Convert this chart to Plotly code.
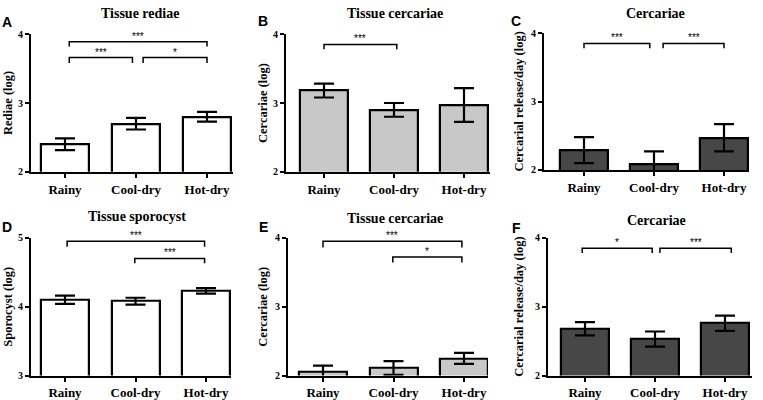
import plotly.graph_objects as go

W, H = 763, 400

categories = ["Rainy", "Cool-dry", "Hot-dry"]

a_mean = [2.40, 2.70, 2.80]
a_err = [0.085, 0.085, 0.07]
b_mean = [3.18, 2.90, 2.97]
b_err = [0.10, 0.10, 0.245]
c_mean = [2.29, 2.08, 2.47]
c_err = [0.19, 0.19, 0.20]
d_mean = [4.10, 4.08, 4.23]
d_err = [0.06, 0.05, 0.04]
e_mean = [2.06, 2.11, 2.25]
e_err = [0.085, 0.10, 0.08]
f_mean = [2.68, 2.53, 2.76]
f_err = [0.095, 0.11, 0.11]

# significance brackets: (x_start, x_end, y_top, leg_drop, label)
a_sig = [(0.06, 2.0, 3.89, 0.07, "***"), (0.06, 0.95, 3.66, 0.08, "***"), (1.10, 2.0, 3.66, 0.08, "*")]
b_sig = [(0.0, 1.04, 3.85, 0.07, "***")]
c_sig = [(0.0, 0.94, 3.85, 0.07, "***"), (1.13, 2.0, 3.85, 0.07, "***")]
d_sig = [(0.03, 1.98, 4.95, 0.08, "***"), (0.99, 1.98, 4.70, 0.07, "***")]
e_sig = [(0.0, 1.97, 3.95, 0.09, "***"), (0.99, 1.97, 3.72, 0.08, "*")]
f_sig = [(-0.04, 0.96, 3.85, 0.07, "*"), (1.07, 2.09, 3.85, 0.07, "***")]

titles = ["Tissue rediae", "Tissue cercariae", "Cercariae",
          "Tissue sporocyst", "Tissue cercariae", "Cercariae"]
letters = ["A", "B", "C", "D", "E", "F"]
ylabels = ["Rediae (log)", "Cercariae (log)", "Cercarial release/day (log)",
           "Sporocyst (log)", "Cercariae (log)", "Cercarial release/day (log)"]
yranges = [(2, 4), (2, 4), (2, 4), (3, 5), (2, 4), (2, 4)]
colors = ["#ffffff", "#c8c8c8", "#474747", "#ffffff", "#c8c8c8", "#474747"]

means = [a_mean, b_mean, c_mean, d_mean, e_mean, f_mean]
errs = [a_err, b_err, c_err, d_err, e_err, f_err]
sigs = [a_sig, b_sig, c_sig, d_sig, e_sig, f_sig]

# layout in pixels: axis left, axis right, first bar centre, last bar centre, top, bottom
geom = [
    (31, 233, 65, 207, 29, 171),
    (286, 490, 324, 464, 29, 171),
    (544, 749, 584, 724, 28, 169),
    (31, 231, 65, 206, 239, 381),
    (288, 488, 323, 464, 239, 381),
    (548, 752, 585, 725, 239, 381),
]
# text positions (pixels)
title_pos = [(140, 8), (395, 8), (655, 8), (137, 217), (395, 219), (656, 221)]
letter_pos = [(7, 16), (263, 15), (516, 15), (7, 228), (263, 228), (516, 229)]
ylabel_x = [8, 263, 519, 8, 263, 519]
BAR_PX = 48

serif = "Liberation Serif, Times New Roman, serif"
sans = "Liberation Sans, Arial, sans-serif"

fig = go.Figure()
annotations = []

for i in range(6):
    L, R, c0, c2, T, B = geom[i]
    s = (c2 - c0) / 2
    lo = -(c0 - L) / s
    hi = (R - c0) / s
    n = i + 1
    xa = "x" if n == 1 else f"x{n}"
    ya = "y" if n == 1 else f"y{n}"
    fig.add_trace(go.Bar(
        x=[0, 1, 2], y=means[i], width=BAR_PX / s,
        marker=dict(color=colors[i], line=dict(color="black", width=2.2)),
        error_y=dict(type="data", array=errs[i], color="black", thickness=2.2, width=10),
        xaxis=xa, yaxis=ya, showlegend=False, hoverinfo="skip",
    ))
    for (x0, x1, yt, dr, lab) in sigs[i]:
        fig.add_trace(go.Scatter(
            x=[x0, x0, x1, x1], y=[yt - dr, yt, yt, yt - dr], mode="lines",
            line=dict(color="black", width=1.5), xaxis=xa, yaxis=ya,
            showlegend=False, hoverinfo="skip", cliponaxis=False,
        ))
        annotations.append(dict(
            x=(x0 + x1) / 2, y=yt, xref=xa, yref=ya, text=lab, showarrow=False,
            yanchor="bottom", yshift=-2, font=dict(family=sans, size=10, color="black"),
        ))
    axkw = "xaxis" if n == 1 else f"xaxis{n}"
    aykw = "yaxis" if n == 1 else f"yaxis{n}"
    fig.update_layout(**{
        axkw: dict(domain=[L / W, R / W], range=[lo, hi], anchor=ya,
                   tickmode="array", tickvals=[0, 1, 2], ticktext=categories,
                   showline=True, linecolor="black", linewidth=2.2,
                   ticks="outside", ticklen=4, tickwidth=2, tickcolor="black",
                   showgrid=False, zeroline=False, fixedrange=True,
                   tickfont=dict(family=serif, size=13, color="black", weight="bold")),
        aykw: dict(domain=[1 - B / H, 1 - T / H], range=list(yranges[i]), anchor=xa,
                   tickmode="array", tickvals=[yranges[i][0], yranges[i][0] + 1, yranges[i][1]],
                   showline=True, linecolor="black", linewidth=2.2,
                   ticks="outside", ticklen=4, tickwidth=2, tickcolor="black",
                   showgrid=False, zeroline=False, fixedrange=True,
                   tickfont=dict(family=serif, size=10, color="black", weight="bold")),
    })
    tx, ty = title_pos[i]
    annotations.append(dict(x=tx / W, y=1 - ty / H, xref="paper", yref="paper",
                            text=titles[i], showarrow=False, xanchor="center", yanchor="middle",
                            font=dict(family=serif, size=14, color="black", weight="bold")))
    lx, ly = letter_pos[i]
    annotations.append(dict(x=lx / W, y=1 - ly / H, xref="paper", yref="paper",
                            text=letters[i], showarrow=False, xanchor="center", yanchor="middle",
                            font=dict(family=sans, size=14, color="black", weight="bold")))
    annotations.append(dict(x=ylabel_x[i] / W, y=1 - ((T + B) / 2) / H, xref="paper", yref="paper",
                            text=ylabels[i], showarrow=False, textangle=-90,
                            xanchor="center", yanchor="middle",
                            font=dict(family=serif, size=12.5, color="black", weight="bold")))

fig.update_layout(
    width=W, height=H, margin=dict(l=0, r=0, t=0, b=0),
    plot_bgcolor="white", paper_bgcolor="white",
    annotations=annotations, bargap=0,
)

fig.write_html("out.html", config={"displayModeBar": False},
               post_script="document.body.style.margin='0';document.body.style.padding='0';document.body.style.overflow='hidden';")
